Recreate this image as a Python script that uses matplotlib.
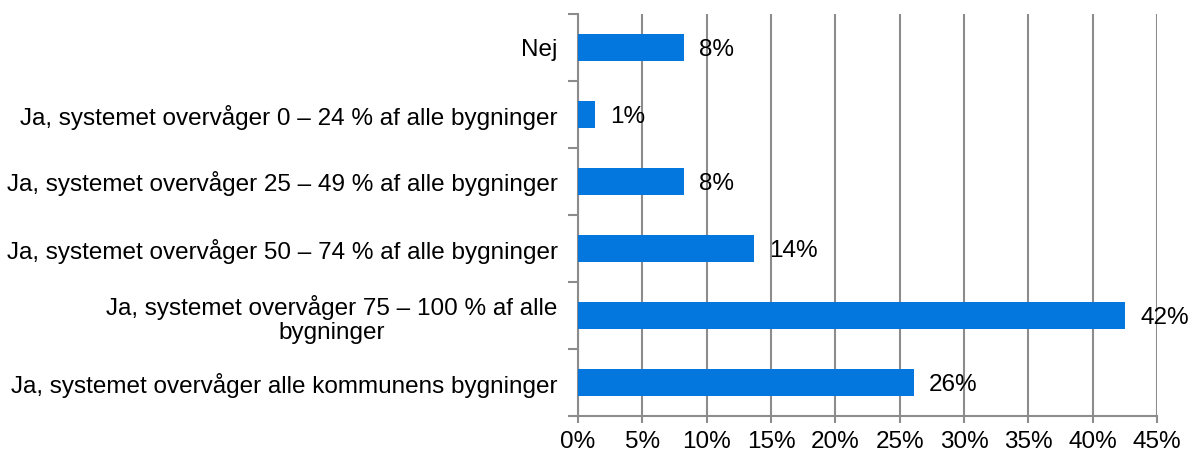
import matplotlib
matplotlib.use("Agg")
import matplotlib.pyplot as plt
import numpy as np

categories = [
    "Nej",
    "Ja, systemet overvåger 0 – 24 % af alle bygninger",
    "Ja, systemet overvåger 25 – 49 % af alle bygninger",
    "Ja, systemet overvåger 50 – 74 % af alle bygninger",
    "Ja, systemet overvåger 75 – 100 % af alle\nbygninger",
    "Ja, systemet overvåger alle kommunens bygninger",
]
values = [8.2, 1.3, 8.2, 13.7, 42.5, 26.1]
value_labels = ["8%", "1%", "8%", "14%", "42%", "26%"]
xticks = [0, 5, 10, 15, 20, 25, 30, 35, 40, 45]

plt.rcParams['font.family'] = ['Liberation Sans', 'DejaVu Sans']

fig = plt.figure(figsize=(12.01, 4.55), dpi=100)
ax = fig.add_axes([578/1201, 1-416/455, (1157-578)/1201, (416-14)/455])

grid_col = "#8c8c8c"
fs = 17.5
y = np.arange(len(categories))
ax.barh(y, values, height=0.4, color="#0477DF", zorder=3)

for yi, v, lab in zip(y, values, value_labels):
    ax.annotate(lab, (v, yi), xytext=(11, -1.5), textcoords="offset points",
                ha="left", va="center", fontsize=fs, color="black", zorder=4)

ax.set_xlim(0, 45)
ax.set_ylim(len(categories) - 0.5, -0.5)
ax.set_xticks(xticks)
ax.set_xticklabels([f"{t}%" for t in xticks], fontsize=fs)
ax.set_yticks(y)
ax.set_yticklabels(categories, fontsize=fs, linespacing=1.12)
for lbl in ax.get_yticklabels():
    lbl.set_multialignment("center")
ax.set_yticks(np.arange(len(categories) + 1) - 0.5, minor=True)

ax.tick_params(axis="y", which="major", length=0, pad=14.5)
ax.tick_params(axis="y", which="minor", length=7, width=1.5, color=grid_col, direction="out")
ax.tick_params(axis="x", which="major", length=5, width=1.5, color=grid_col, direction="out", pad=6)

ax.xaxis.grid(True, color=grid_col, linewidth=1.5, zorder=0)
ax.set_axisbelow(True)
for s in ["top", "right"]:
    ax.spines[s].set_visible(False)
for s in ["left", "bottom"]:
    ax.spines[s].set_color(grid_col)
    ax.spines[s].set_linewidth(1.5)

fig.savefig("out.png", dpi=100)
